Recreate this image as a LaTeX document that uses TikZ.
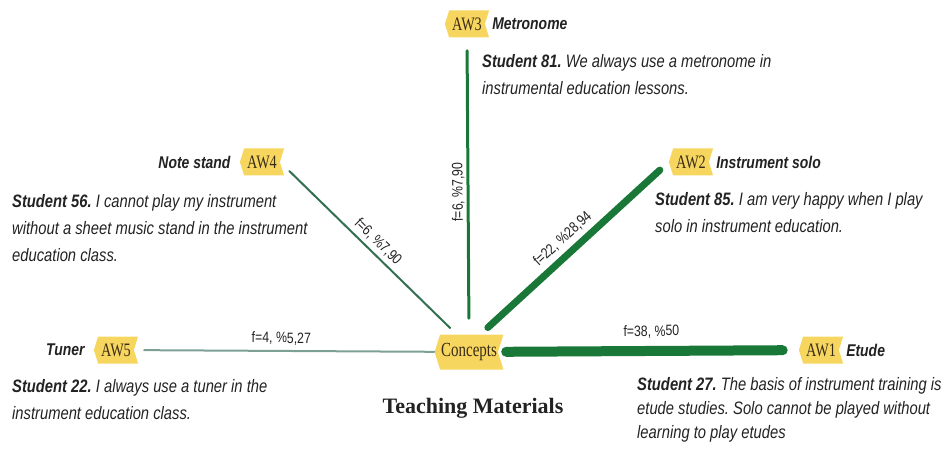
\documentclass[tikz,border=0pt]{standalone}
\usepackage{fontspec}
\setmainfont{Liberation Serif}
\setsansfont{Liberation Sans}[FakeStretch=0.82]
\newfontfamily\tagfont{Liberation Serif}[FakeStretch=0.75]
\usetikzlibrary{positioning,shapes.symbols}
\frenchspacing

\definecolor{tagyellow}{RGB}{247,214,96}
\definecolor{tagink}{RGB}{58,44,20}
\definecolor{inktext}{RGB}{34,34,34}
\definecolor{linkgreen}{RGB}{25,120,55}
\definecolor{linkmid}{RGB}{50,112,80}
\definecolor{linkpale}{RGB}{125,160,150}

\tikzset{
  tag/.style={shape=signal, signal to=west, signal from=east, signal pointer angle=145,
    fill=tagyellow, text=tagink, font=\tagfont\fontsize{19}{19}\selectfont,
    inner xsep=3pt, inner ysep=2pt, minimum height=27pt},
  code/.style={font=\sffamily\bfseries\itshape\fontsize{17}{20}\selectfont, text=inktext, inner sep=0pt},
  quote/.style={font=\sffamily\itshape\fontsize{18}{27}\selectfont, text=inktext,
    align=left, anchor=north west, inner sep=0pt},
  link/.style={line cap=round},
  freq/.style={font=\sffamily\fontsize{15}{15}\selectfont, text=inktext, sloped, inner sep=1pt},
}

\begin{document}
\begin{tikzpicture}[x=1pt, y=1pt]
  \useasboundingbox (0,0) rectangle (947,453);

  % code tags
  \node[tag, minimum height=35pt, inner xsep=1pt, font=\tagfont\fontsize{20}{20}\selectfont] (concepts) at (469,101) {Concepts};
  \foreach \name/\x/\y/\lab in {aw1/821/103/AW1, aw2/691/291/AW2, aw3/467/429/AW3,
                                aw4/262/291/AW4, aw5/116/103/AW5}
    \node[tag] (\name) at (\x,\y) {\lab};

  % code names
  \node[code, right=7pt of aw1] (etude) {Etude};
  \node[code, right=7pt of aw2] (solo) {Instrument solo};
  \node[code, right=7pt of aw3] (metronome) {Metronome};
  \node[code, left=9pt of aw4] (notestand) {Note stand};
  \node[code, left=9pt of aw5] (tuner) {Tuner};

  % links with frequencies
  \draw[link, line width=10pt, linkgreen, shorten <=8pt, shorten >=16pt]
    (concepts) -- node[freq, above=7pt, pos=.51] {f=38, \%50} (aw1);
  \draw[link, line width=7pt, linkgreen, shorten <=10pt, shorten >=12pt]
    (concepts.57) -- node[freq, above=4pt, pos=.49] {f=22, \%28,94} (aw2.west);
  \draw[link, line width=3pt, linkgreen, shorten <=16pt, shorten >=13pt]
    (concepts.north) -- node[freq, allow upside down, above=1pt, pos=.48] {f=6, \%7,90} (aw3.south);
  \draw[link, line width=2pt, linkmid, shorten <=9pt, shorten >=13pt]
    (concepts.125) -- node[freq, above=3pt, pos=.49] {f=6, \%7,90} (aw4.east);
  \draw[link, line width=2pt, linkpale, shorten <=0pt, shorten >=10pt]
    (concepts) -- node[freq, above=4pt, pos=.51] {f=4, \%5,27} (aw5);

  % student quotes
  \node[quote] (q81) at (482,399) {\textbf{Student 81.} We always use a metronome in\\instrumental education lessons.};
  \node[quote] (q85) at (655,261) {\textbf{Student 85.} I am very happy when I play\\solo in instrument education.};
  \node[quote] (q56) at (12,259) {\textbf{Student 56.} I cannot play my instrument\\without a sheet music stand in the instrument\\education class.};
  \node[quote] (q22) at (12,74) {\textbf{Student 22.} I always use a tuner in the\\instrument education class.};
  \node[quote, font=\sffamily\itshape\fontsize{18}{24}\selectfont] (q27) at (637,76)
    {\textbf{Student 27.} The basis of instrument training is\\etude studies. Solo cannot be played without\\learning to play etudes};

  \node[font=\bfseries\fontsize{22}{22}\selectfont, text=inktext] (title) at (473,45) {Teaching Materials};
\end{tikzpicture}
\end{document}
